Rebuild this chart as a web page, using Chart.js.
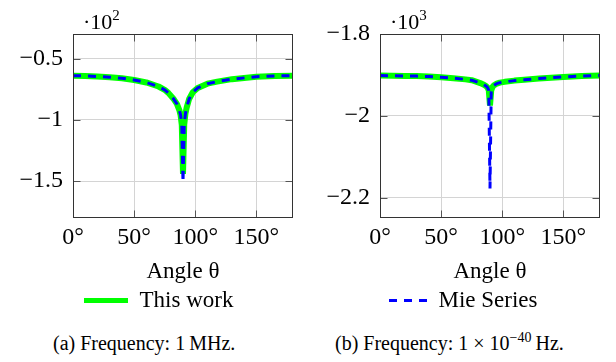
<!DOCTYPE html>
<html><head><meta charset="utf-8">
<script src="https://cdn.jsdelivr.net/npm/chart.js@4/dist/chart.umd.min.js"></script>
<style>
body{margin:0;background:#fff;width:616px;height:362px;overflow:hidden;position:relative;font-family:"Liberation Serif",serif;color:#000}
.c{position:absolute;top:0;height:330px}
#wa{left:0;width:300px}
#wb{left:300px;width:316px}
.exp{position:absolute;font-size:22px;line-height:22px;white-space:nowrap}
.exp sup{font-size:15px;vertical-align:0;position:relative;top:-9px}
.cap{position:absolute;top:333px;font-size:20px;white-space:nowrap;line-height:20px}
.cap sup{font-size:14px;vertical-align:0;position:relative;top:-8px}
</style></head><body>
<div class="c" id="wa"><canvas id="ca"></canvas></div>
<div class="c" id="wb"><canvas id="cb"></canvas></div>
<div class="exp" style="left:83px;top:11px">·10<sup>2</sup></div>
<div class="exp" style="left:390px;top:11px">·10<sup>3</sup></div>
<div class="cap" style="left:53px">(a) Frequency: 1&#8201;MHz.</div>
<div class="cap" style="left:335px">(b) Frequency: 1&#8197;×&#8197;10<sup>−40</sup>&#8201;Hz.</div>
<script>
// ---- data (values in axis units: left ×10², right ×10³) ----
const angles = [0,10,20,30,40,50,60,70,75,78,82,85,87,88,89,90,91,92,93,95,98,102,110,118,130,150,165,180];
const leftThisWork = [-0.640,-0.642,-0.646,-0.652,-0.661,-0.675,-0.695,-0.728,-0.755,-0.780,-0.825,-0.870,-0.920,-0.960,-1.040,-1.440,-1.040,-0.950,-0.900,-0.830,-0.775,-0.740,-0.705,-0.688,-0.668,-0.648,-0.642,-0.640];
const leftMie = [-0.640,-0.642,-0.646,-0.652,-0.661,-0.675,-0.695,-0.728,-0.755,-0.780,-0.825,-0.870,-0.920,-0.960,-1.040,-1.510,-1.040,-0.950,-0.900,-0.830,-0.775,-0.740,-0.705,-0.688,-0.668,-0.648,-0.642,-0.640];
const rightThisWork = [-1.9015,-1.902,-1.9025,-1.903,-1.904,-1.906,-1.908,-1.911,-1.913,-1.916,-1.920,-1.924,-1.928,-1.931,-1.938,-1.975,-1.938,-1.930,-1.926,-1.922,-1.919,-1.917,-1.914,-1.912,-1.909,-1.905,-1.903,-1.9015];
const rightMie = [-1.9015,-1.902,-1.9025,-1.903,-1.904,-1.906,-1.908,-1.911,-1.913,-1.916,-1.920,-1.924,-1.928,-1.931,-1.938,-2.178,-1.938,-1.930,-1.926,-1.922,-1.919,-1.917,-1.914,-1.912,-1.909,-1.905,-1.903,-1.9015];
const xTicks = [0,50,100,150];
const leftYTicks = [-1.5,-1,-0.5];
const rightYTicks = [-2.2,-2,-1.8];
const seriesNames = ['This work','Mie Series'];
const xTitle = 'Angle θ';

const FAM = '"Liberation Serif", "Times New Roman", serif';
const fmtNum = v => (v < 0 ? '\u2212' : '') + String(Math.abs(v));

const framePlugin = {
  id: 'frame',
  afterDraw(chart) {
    const {ctx, chartArea: a, scales} = chart;
    ctx.save();
    ctx.strokeStyle = '#555';
    ctx.lineWidth = 1;
    const L = Math.round(a.left) + 0.5, R = Math.round(a.right) - 0.5;
    const T = Math.round(a.top) + 0.5, B = Math.round(a.bottom) - 0.5;
    ctx.beginPath();
    scales.y.ticks.forEach(t => {
      const y = Math.round(scales.y.getPixelForValue(t.value)) + 0.5;
      ctx.moveTo(L, y); ctx.lineTo(L + 7, y);
      ctx.moveTo(R, y); ctx.lineTo(R - 7, y);
    });
    scales.x.ticks.forEach(t => {
      const x = Math.round(scales.x.getPixelForValue(t.value)) + 0.5;
      ctx.moveTo(x, B); ctx.lineTo(x, B - 7);
      ctx.moveTo(x, T); ctx.lineTo(x, T + 7);
    });
    ctx.stroke();
    ctx.strokeStyle = '#333';
    ctx.strokeRect(L, T, R - L, B - T);
    ctx.restore();
  }
};

// moves the legend so that its first item starts at a given x
const legendShift = {
  id: 'legendShift',
  afterLayout(chart, args, opts) {
    const lg = chart.legend;
    if (!lg || opts.x == null) return;
    const pad = lg.options.labels.padding;
    const dx = opts.x - (lg.left + pad);
    lg.left += dx; lg.right += dx;
  }
};

function makeChart(id, green, blue, yMin, yMax, yTicks, yWidth, padRight, legendIndex, legendX, legendLen) {
  const pts = arr => angles.map((a, i) => ({x: a, y: arr[i]}));
  return new Chart(document.getElementById(id), {
    type: 'line',
    data: {
      datasets: [
        {label: seriesNames[0], data: pts(green), borderColor: '#00ff00', backgroundColor: '#00ff00',
         borderWidth: 6, pointRadius: 0, tension: 0, borderJoinStyle: 'bevel', clip: 0, order: 1},
        {label: seriesNames[1], data: pts(blue), borderColor: '#0000ff', backgroundColor: '#0000ff',
         borderWidth: 3, borderDash: [8, 7], pointRadius: 0, tension: 0, borderJoinStyle: 'bevel', clip: 0, order: 0}
      ]
    },
    options: {
      responsive: true, maintainAspectRatio: false, animation: false, devicePixelRatio: 1,
      events: [],
      layout: {padding: {top: 34, left: 0, right: padRight, bottom: 8}},
      plugins: {
        legend: {
          position: 'bottom', align: 'start',
          labels: {
            usePointStyle: true, pointStyle: 'line', pointStyleWidth: legendLen, boxHeight: 23, padding: 3,
            color: '#000', font: {family: FAM, size: 23},
            generateLabels: chart => Chart.defaults.plugins.legend.labels.generateLabels(chart).map(item => {
              const ds = chart.data.datasets[item.datasetIndex];
              item.lineDash = ds.borderDash || [];
              item.lineWidth = item.datasetIndex === 0 ? 5 : 3;
              item.strokeStyle = ds.borderColor;
              item.pointStyle = 'line';
              return item;
            }),
            filter: item => item.datasetIndex === legendIndex
          }
        },
        legendShift: {x: legendX},
        tooltip: {enabled: false}
      },
      scales: {
        x: {
          type: 'linear', min: 0, max: 180,
          afterBuildTicks: s => { s.ticks = xTicks.map(v => ({value: v})); },
          afterFit: s => { s.height = 68; },
          ticks: {callback: v => v + '°', padding: 5, color: '#000', font: {family: FAM, size: 24}, maxRotation: 0, autoSkip: false},
          grid: {color: '#d4d4d4', drawTicks: false},
          border: {display: false},
          title: {display: true, text: xTitle, color: '#000', font: {family: FAM, size: 23}, padding: 0}
        },
        y: {
          type: 'linear', min: yMin, max: yMax,
          afterBuildTicks: s => { s.ticks = yTicks.map(v => ({value: v})); },
          afterFit: s => { s.width = yWidth; },
          ticks: {callback: v => fmtNum(v), padding: 10, color: '#000', font: {family: FAM, size: 24}, autoSkip: false},
          grid: {color: '#d4d4d4', drawTicks: false},
          border: {display: false}
        }
      }
    },
    plugins: [framePlugin, legendShift]
  });
}

makeChart('ca', leftThisWork, leftMie, -1.8, -0.3, leftYTicks, 73, 7, 0, 84, 44);
makeChart('cb', rightThisWork, rightMie, -2.25, -1.8, rightYTicks, 80, 16, 1, 89, 38);
</script>
</body></html>
